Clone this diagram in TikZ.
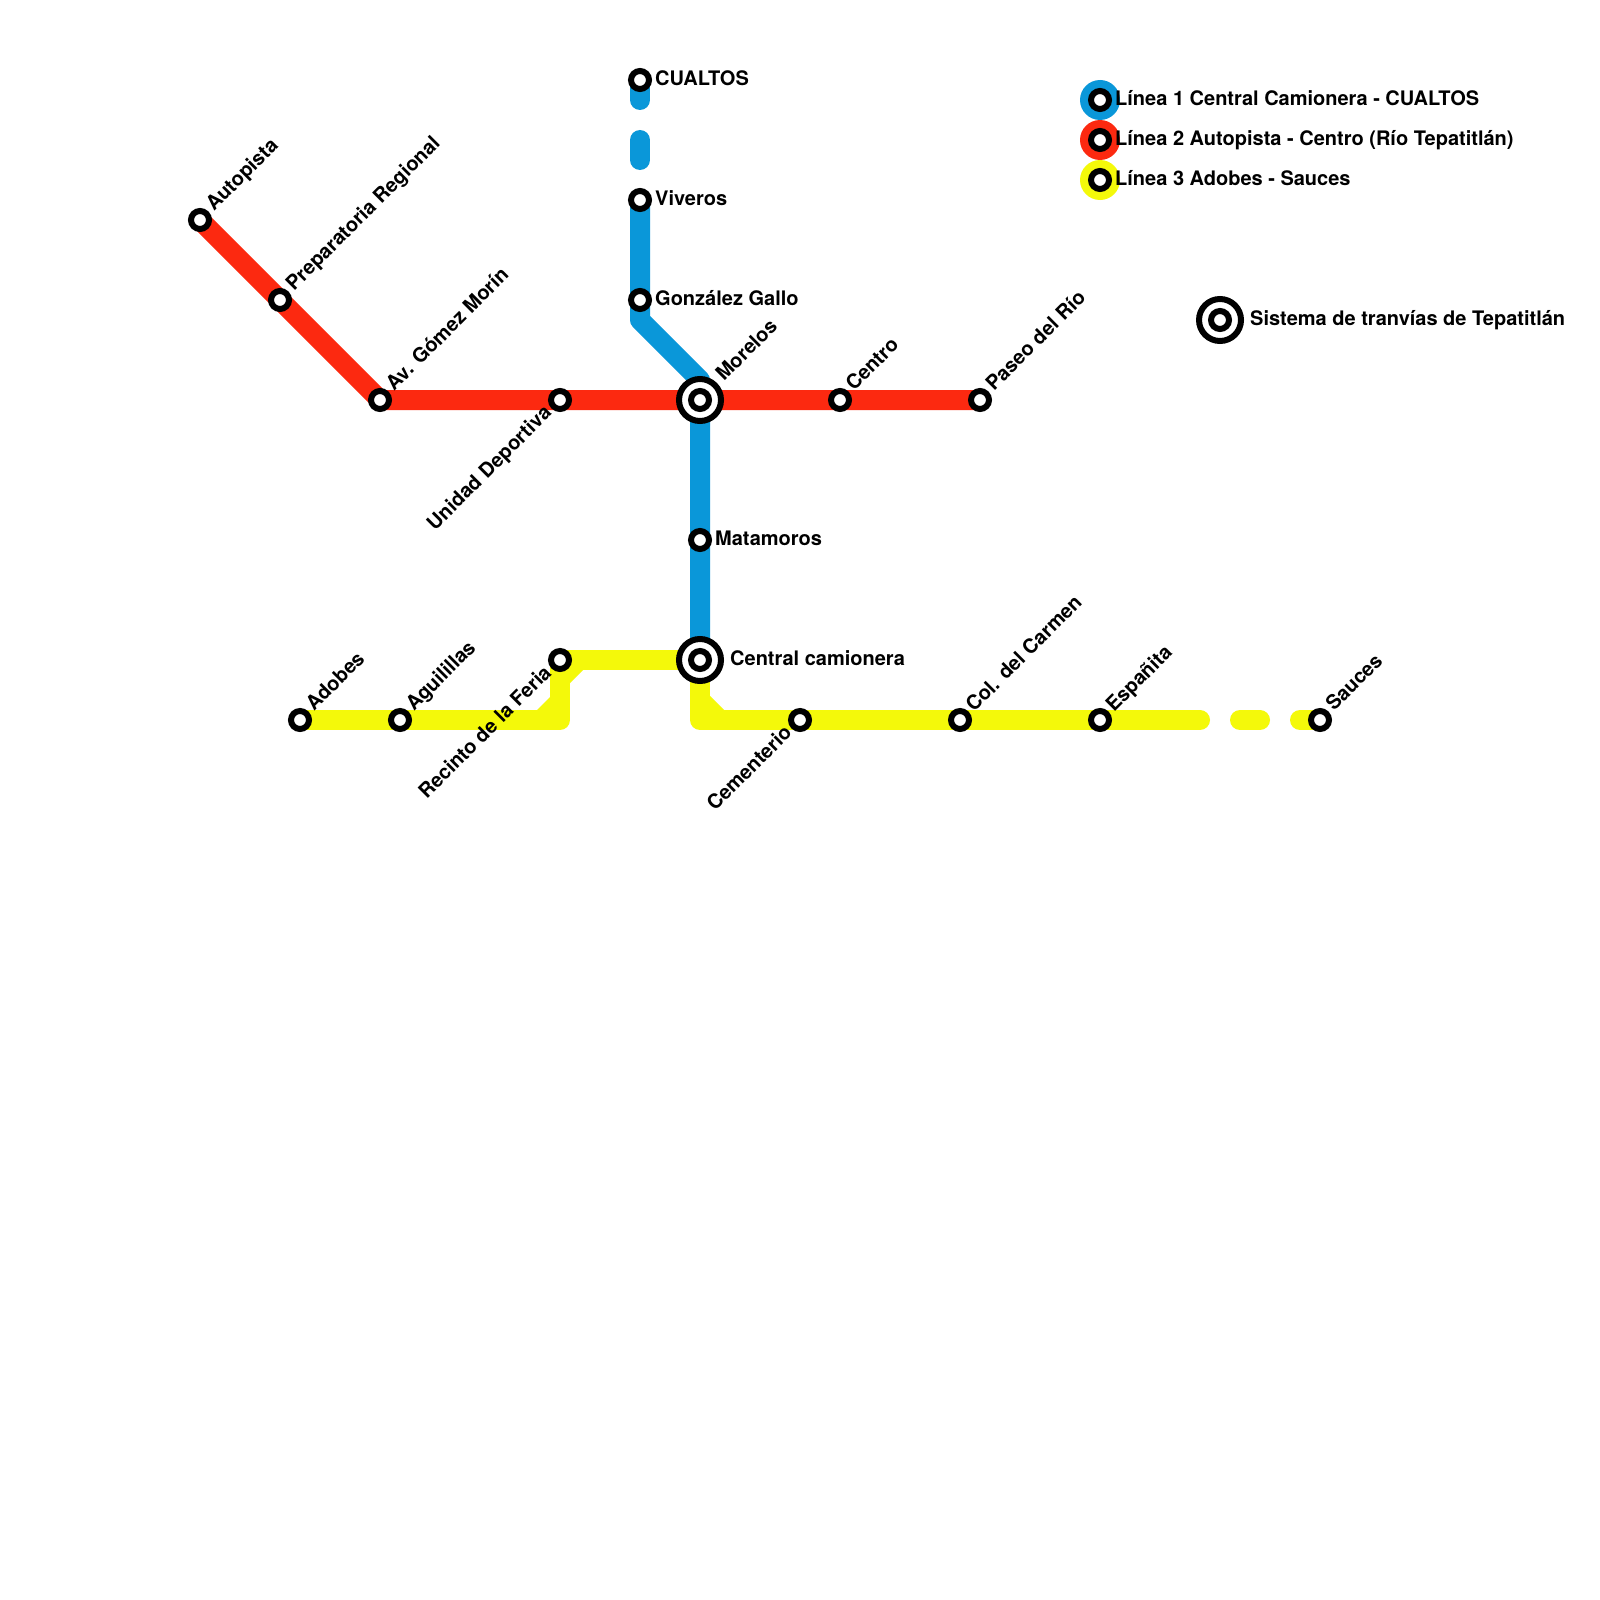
\documentclass[tikz,border=0pt]{standalone}
\usepackage{fontspec}
\setmainfont{TeX Gyre Heros}
\definecolor{lblue}{HTML}{0A97D9}
\definecolor{lred}{HTML}{FC2910}
\definecolor{lyellow}{HTML}{F4F90A}
\tikzset{
  rail/.style={line width=20pt,line join=round,line cap=round},
  railbutt/.style={line width=20pt,line join=round,line cap=butt},
  stn/.style={circle,draw=black,fill=white,line width=6pt,minimum size=18pt,inner sep=0pt,outer sep=0pt},
  hubouter/.style={circle,draw=black,fill=white,line width=6pt,minimum size=42pt,inner sep=0pt,outer sep=0pt},
  hubinner/.style={circle,draw=black,fill=white,line width=6pt,minimum size=18pt,inner sep=0pt,outer sep=0pt},
  legdot/.style={circle,minimum size=40pt,inner sep=0pt,outer sep=0pt},
  lab/.style={font=\bfseries\fontsize{20}{22}\selectfont,inner sep=0pt,text=black},
  labne/.style={lab,anchor=base west,rotate=45},
  labsw/.style={lab,anchor=base east,rotate=45},
  labe/.style={lab,anchor=base west},
}
\begin{document}
\begin{tikzpicture}[x=1pt,y=-1pt]
\useasboundingbox (0,0) rectangle (1600,1600);
\fill[white] (0,0) rectangle (1600,1600);
% stations
\coordinate (cualtos) at (640,80);
\coordinate (bdashA) at (640,100);
\coordinate (bdashB) at (640,140);
\coordinate (bdashC) at (640,160);
\coordinate (viveros) at (640,200);
\coordinate (gonzalez) at (640,300);
\coordinate (bbendA) at (640,320);
\coordinate (bbendB) at (700,380);
\coordinate (morelos) at (700,400);
\coordinate (matamoros) at (700,540);
\coordinate (central) at (700,660);
\coordinate (autopista) at (200,220);
\coordinate (prepa) at (280,300);
\coordinate (gomez) at (380,400);
\coordinate (deportiva) at (560,400);
\coordinate (centro) at (840,400);
\coordinate (paseo) at (980,400);
\coordinate (adobes) at (300,720);
\coordinate (aguilillas) at (400,720);
\coordinate (ycornerA) at (560,720);
\coordinate (recinto) at (560,660);
\coordinate (ycornerB) at (700,720);
\coordinate (cementerio) at (800,720);
\coordinate (carmen) at (960,720);
\coordinate (espanita) at (1100,720);
\coordinate (ydashA) at (1200,720);
\coordinate (ydashB) at (1240,720);
\coordinate (ydashC) at (1260,720);
\coordinate (ydashD) at (1300,720);
\coordinate (sauces) at (1320,720);
% line 1
\draw[rail,lblue] (cualtos) -- (bdashA);
\draw[rail,lblue] (bdashB) -- (bdashC);
\draw[railbutt,lblue] (viveros) -- (gonzalez) -- (bbendA) -- (bbendB) -- (morelos) -- (matamoros) -- (central);
% line 2
\draw[railbutt,lred] (autopista) -- (prepa) -- (gomez) -- (deportiva) -- (morelos) -- (centro) -- (paseo);
% line 3
\draw[rail,lyellow] (adobes) -- (aguilillas) -- (ycornerA) -- (recinto) -- (central) -- (ycornerB) -- (cementerio) -- (carmen) -- (espanita) -- (ydashA);
\draw[rail,lyellow] (ydashB) -- (ydashC);
\draw[rail,lyellow] (ydashD) -- (sauces);
\fill[lyellow] (537,710) -- (550,697) -- (550,710) -- cycle;
\fill[lyellow] (570,670) -- (583,670) -- (570,683) -- cycle;
\fill[lyellow] (710,696) -- (724,710) -- (710,710) -- cycle;
% station markers
\foreach \s in {cualtos,viveros,gonzalez,matamoros,autopista,prepa,gomez,deportiva,centro,paseo,adobes,aguilillas,recinto,cementerio,carmen,espanita,sauces}
  \node[stn] (n\s) at (\s) {};
\foreach \s in {morelos,central}{
  \node[hubouter] (o\s) at (\s) {};
  \node[hubinner] (i\s) at (\s) {};
}
% labels
\node[labe] (tcualtos) at (655,86) {CUALTOS};
\node[labe] (tviveros) at (655,205) {Viveros};
\node[labe] (tgonzalez) at (655,305) {González Gallo};
\node[labe] (tmatamoros) at (715,545) {Matamoros};
\node[labe] (tcentral) at (730,665) {Central camionera};
\node[labne] (tmorelos) at (724,382) {Morelos};
\node[labne] (tautopista) at (214,212) {Autopista};
\node[labne] (tprepa) at (294,292) {Preparatoria Regional};
\node[labne] (tgomez) at (394,392) {Av. Gómez Morín};
\node[labne] (tcentro) at (854,392) {Centro};
\node[labne] (tpaseo) at (994,392) {Paseo del Río};
\node[labne] (tadobes) at (314,712) {Adobes};
\node[labne] (taguilillas) at (414,712) {Aguilillas};
\node[labne] (tcarmen) at (974,713) {Col. del Carmen};
\node[labne] (tespanita) at (1114,713) {Españita};
\node[labne] (tsauces) at (1334,712) {Sauces};
\node[labsw] (tdeportiva) at (552.5,414) {Unidad Deportiva};
\node[labsw] (trecinto) at (552.5,674) {Recinto de la Feria};
\node[labsw] (tcementerio) at (793,734) {Cementerio};
% legend
\node[legdot,fill=lblue] (lega) at (1100,100) {};
\node[legdot,fill=lred] (legb) at (1100,140) {};
\node[legdot,fill=lyellow] (legc) at (1100,180) {};
\node[stn] (lsa) at (1100,100) {};
\node[stn] (lsb) at (1100,140) {};
\node[stn] (lsc) at (1100,180) {};
\node[labe] (ta) at (1115,105.5) {Línea 1 Central Camionera - CUALTOS};
\node[labe] (tb) at (1115,145.5) {Línea 2 Autopista - Centro (Río Tepatitlán)};
\node[labe] (tc) at (1115,185) {Línea 3 Adobes - Sauces};
\node[hubouter] (lho) at (1220,320) {};
\node[hubinner] (lhi) at (1220,320) {};
\node[labe] (td) at (1250,325) {Sistema de tranvías de Tepatitlán};
\end{tikzpicture}
\end{document}
